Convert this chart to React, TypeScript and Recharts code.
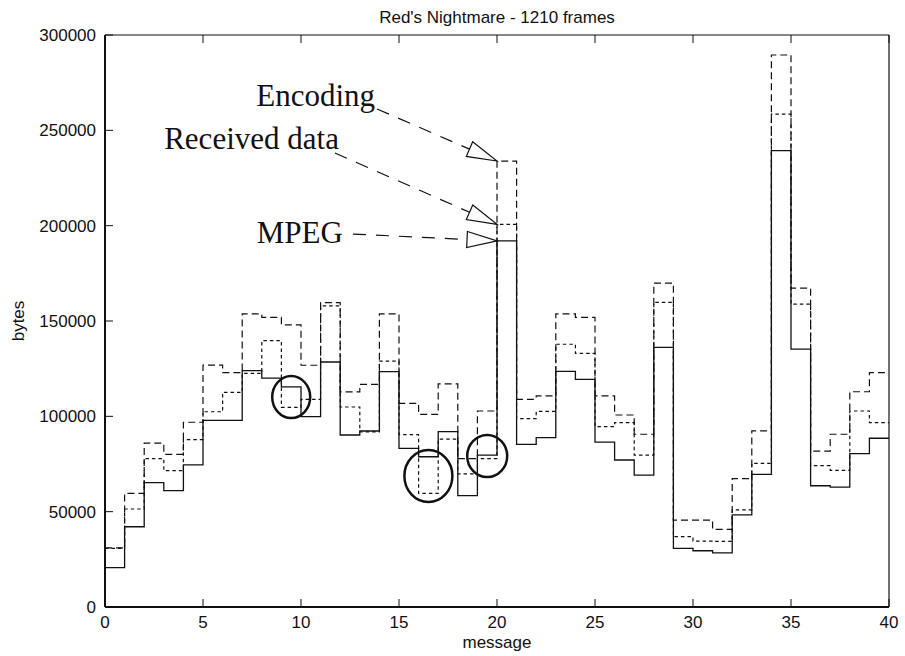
import { LineChart, Line, XAxis, YAxis, ReferenceLine, ReferenceDot } from "recharts";

// message index (each value holds for one message, drawn as a step)
const messages = [
  0, 1, 2, 3, 4, 5, 6, 7, 8, 9, 10, 11, 12, 13, 14, 15, 16, 17, 18, 19,
  20, 21, 22, 23, 24, 25, 26, 27, 28, 29, 30, 31, 32, 33, 34, 35, 36, 37, 38, 39,
];

const mpeg = [
  20600, 42100, 65200, 61000, 74500, 97900, 97900, 124000, 120000, 115500,
  99800, 128500, 90200, 92300, 123400, 83200, 78800, 92000, 58400, 79700,
  192000, 85300, 88800, 123600, 119400, 86500, 77100, 69200, 136200, 30800,
  29500, 28400, 48300, 69600, 239400, 135300, 63600, 62900, 80400, 88500,
];

const received = [
  30800, 51400, 77800, 71500, 87800, 102400, 112600, 122500, 139700, 104700,
  108900, 157900, 104900, 91800, 129000, 90400, 59600, 88000, 69800, 77800,
  200700, 98800, 102600, 137800, 133000, 94600, 96700, 79700, 159800, 36900,
  34600, 34400, 50900, 75300, 258500, 158800, 74100, 71700, 102800, 96700,
];

const encoding = [
  31000, 59600, 85900, 80100, 96900, 126900, 122900, 153700, 151900, 148000,
  126800, 159600, 112800, 116800, 153700, 106800, 101000, 117000, 77800, 102800,
  233900, 108900, 110700, 153700, 151900, 110700, 100700, 90600, 169900, 45600,
  45600, 40700, 67300, 92400, 289500, 167200, 81800, 90600, 112900, 122900,
];

const xTicks = [0, 5, 10, 15, 20, 25, 30, 35, 40];
const yTicks = [0, 50000, 100000, 150000, 200000, 250000, 300000];

const rows = messages.map((m, i) => ({
  message: m,
  mpeg: mpeg[i],
  received: received[i],
  encoding: encoding[i],
}));
// close the last step at the right edge
rows.push({ message: 40, mpeg: mpeg[39], received: received[39], encoding: encoding[39] });

const annotations = [
  { label: "Encoding", from: { x: 13.88, y: 261200 }, to: encoding[20], dx: -2, dy: -3 },
  { label: "Received data", from: { x: 11.73, y: 238100 }, to: received[20], dx: 4, dy: -4 },
  { label: "MPEG", from: { x: 12.65, y: 195600 }, to: mpeg[20], dx: -10, dy: 9 },
];

const circles = [
  { x: 9.5, y: 110100, rx: 19, ry: 21 },
  { x: 16.5, y: 68700, rx: 24, ry: 26 },
  { x: 19.5, y: 79200, rx: 20, ry: 21 },
];

const sans = "'Liberation Sans', Arial, sans-serif";
const serif = "'Liberation Serif', 'Times New Roman', serif";
const INK = "#111";
const FS = 17;

const BottomTick = ({ x, y, payload }: any) => (
  <g>
    <line x1={x} y1={y} x2={x} y2={y - 8} stroke={INK} />
    <text x={x} y={y + 21} textAnchor="middle" fontSize={FS} fontFamily={sans} fill={INK}>
      {payload.value}
    </text>
  </g>
);

const LeftTick = ({ x, y, payload }: any) => (
  <g>
    <line x1={x} y1={y} x2={x + 8} y2={y} stroke={INK} />
    <text x={x - 9} y={y + 6} textAnchor="end" fontSize={FS} fontFamily={sans} fill={INK}>
      {payload.value}
    </text>
  </g>
);

const TopTick = ({ x, y }: any) => <line x1={x} y1={y} x2={x} y2={y + 8} stroke={INK} />;
const RightTick = ({ x, y }: any) => <line x1={x} y1={y} x2={x - 8} y2={y} stroke={INK} />;

const arrowShape = (label: string, dx: number, dy: number) => (p: any) => {
  const { x1, y1, x2, y2 } = p;
  const len = Math.hypot(x2 - x1, y2 - y1);
  const ux = (x2 - x1) / len;
  const uy = (y2 - y1) / len;
  const bx = x2 - ux * 30;
  const by = y2 - uy * 30;
  const nx = -uy * 8;
  const ny = ux * 8;
  return (
    <g>
      <line x1={x1} y1={y1} x2={bx} y2={by} stroke={INK} strokeWidth={1.2} strokeDasharray="13 10" />
      <polygon
        points={`${x2},${y2} ${bx + nx},${by + ny} ${bx - nx},${by - ny}`}
        fill="none"
        stroke={INK}
        strokeWidth={1.2}
      />
      <text x={x1 + dx} y={y1 + dy} textAnchor="end" fontSize={31} fontFamily={serif} fill={INK}>
        {label}
      </text>
    </g>
  );
};

export default function App() {
  return (
    <div style={{ position: "absolute", left: 0, top: 0, background: "#fff" }}>
      <LineChart
        width={905}
        height={656}
        data={rows}
        margin={{ top: 34, right: 15, bottom: 48, left: 104 }}
      >
        <XAxis
          xAxisId="b"
          dataKey="message"
          type="number"
          domain={[0, 40]}
          ticks={xTicks}
          interval={0}
          height={1}
          tickSize={0}
          tickMargin={0}
          tickLine={false}
          axisLine={{ stroke: INK, strokeWidth: 2 }}
          tick={BottomTick}
          label={{
            content: ({ viewBox }: any) => (
              <text
                x={viewBox.x + viewBox.width / 2}
                y={viewBox.y + 41}
                textAnchor="middle"
                fontSize={FS}
                fontFamily={sans}
                fill={INK}
              >
                message
              </text>
            ),
          }}
        />
        <XAxis
          xAxisId="t"
          orientation="top"
          dataKey="message"
          type="number"
          domain={[0, 40]}
          ticks={xTicks}
          interval={0}
          height={1}
          tickSize={0}
          tickMargin={0}
          tickLine={false}
          axisLine={{ stroke: INK, strokeWidth: 1.2 }}
          tick={TopTick}
          label={{
            content: ({ viewBox }: any) => (
              <text
                x={viewBox.x + viewBox.width / 2}
                y={viewBox.y - 11}
                textAnchor="middle"
                fontSize={FS}
                fontFamily={sans}
                fill={INK}
              >
                Red's Nightmare - 1210 frames
              </text>
            ),
          }}
        />
        <YAxis
          yAxisId="l"
          type="number"
          domain={[0, 300000]}
          ticks={yTicks}
          interval={0}
          width={1}
          tickSize={0}
          tickMargin={0}
          tickLine={false}
          axisLine={{ stroke: INK, strokeWidth: 2 }}
          tick={LeftTick}
          label={{
            content: ({ viewBox }: any) => {
              const cx = viewBox.x - 86;
              const cy = viewBox.y + viewBox.height / 2;
              return (
                <text
                  x={cx}
                  y={cy}
                  transform={`rotate(-90, ${cx}, ${cy})`}
                  textAnchor="middle"
                  dominantBaseline="central"
                  fontSize={FS}
                  fontFamily={sans}
                  fill={INK}
                >
                  bytes
                </text>
              );
            },
          }}
        />
        <YAxis
          yAxisId="r"
          orientation="right"
          type="number"
          domain={[0, 300000]}
          ticks={yTicks}
          interval={0}
          width={1}
          tickSize={0}
          tickMargin={0}
          tickLine={false}
          axisLine={{ stroke: INK, strokeWidth: 1.2 }}
          tick={RightTick}
        />
        <Line
          xAxisId="b"
          yAxisId="l"
          type="stepAfter"
          dataKey="encoding"
          stroke={INK}
          strokeWidth={1.2}
          strokeDasharray="7 4"
          dot={false}
          activeDot={false}
          isAnimationActive={false}
        />
        <Line
          xAxisId="b"
          yAxisId="l"
          type="stepAfter"
          dataKey="received"
          stroke={INK}
          strokeWidth={1.2}
          strokeDasharray="3.5 3"
          dot={false}
          activeDot={false}
          isAnimationActive={false}
        />
        <Line
          xAxisId="b"
          yAxisId="l"
          type="stepAfter"
          dataKey="mpeg"
          stroke={INK}
          strokeWidth={1.3}
          dot={false}
          activeDot={false}
          isAnimationActive={false}
        />
        {annotations.map((a) => (
          <ReferenceLine
            key={a.label}
            xAxisId="b"
            yAxisId="l"
            segment={[a.from, { x: 20, y: a.to }]}
            shape={arrowShape(a.label, a.dx, a.dy)}
          />
        ))}
        {circles.map((c, i) => (
          <ReferenceDot
            key={i}
            xAxisId="b"
            yAxisId="l"
            x={c.x}
            y={c.y}
            r={c.rx}
            shape={(p: any) => (
              <ellipse cx={p.cx} cy={p.cy} rx={c.rx} ry={c.ry} fill="none" stroke={INK} strokeWidth={2.5} />
            )}
          />
        ))}
      </LineChart>
    </div>
  );
}
